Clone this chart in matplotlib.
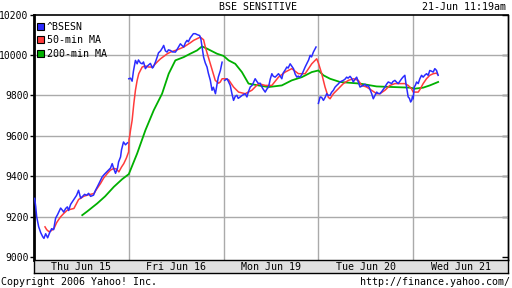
import numpy as np
import matplotlib
matplotlib.use("Agg")
import matplotlib.pyplot as plt
from matplotlib.patches import Patch

# time axis: trading days, 0 = Thu Jun 15 open, 1 = Fri open, ...
days = ['Thu Jun 15', 'Fri Jun 16', 'Mon Jun 19', 'Tue Jun 20', 'Wed Jun 21']

# ^BSESN, one list per session (gaps between days)
bse_t = [
    [0.007, 0.018, 0.028, 0.049, 0.071, 0.092, 0.105, 0.123, 0.144, 0.165, 0.186, 0.207, 0.228, 0.249,
     0.281, 0.302, 0.313, 0.334, 0.352, 0.365, 0.386, 0.407, 0.428, 0.449, 0.470, 0.492, 0.513, 0.534,
     0.555, 0.576, 0.597, 0.628, 0.649, 0.671, 0.692, 0.720, 0.744, 0.765, 0.786, 0.807, 0.825, 0.839,
     0.860, 0.881, 0.892, 0.913, 0.923, 0.944, 0.965, 0.986],
    [1.000, 1.018, 1.035, 1.049, 1.070, 1.088, 1.102, 1.123, 1.141, 1.155, 1.175, 1.196, 1.228, 1.249,
     1.259, 1.281, 1.299, 1.313, 1.335, 1.355, 1.368, 1.386, 1.404, 1.418, 1.439, 1.460, 1.492, 1.513,
     1.544, 1.565, 1.579, 1.597, 1.614, 1.628, 1.649, 1.667, 1.681, 1.702, 1.723, 1.747, 1.760, 1.773,
     1.789, 1.807, 1.825, 1.839, 1.860, 1.878, 1.892, 1.914, 1.932, 1.944, 1.966, 1.984],
    [2.011, 2.036, 2.049, 2.070, 2.088, 2.105, 2.123, 2.140, 2.154, 2.175, 2.196, 2.228, 2.246, 2.260,
     2.281, 2.302, 2.333, 2.349, 2.368, 2.386, 2.404, 2.418, 2.439, 2.455, 2.474, 2.492, 2.509, 2.523,
     2.544, 2.565, 2.579, 2.597, 2.614, 2.628, 2.649, 2.667, 2.681, 2.702, 2.718, 2.737, 2.755, 2.773,
     2.787, 2.807, 2.828, 2.860, 2.881, 2.897, 2.913, 2.928, 2.947, 2.965, 2.975],
    [3.000, 3.018, 3.034, 3.053, 3.071, 3.088, 3.102, 3.123, 3.139, 3.158, 3.175, 3.193, 3.207, 3.228,
     3.244, 3.263, 3.281, 3.298, 3.313, 3.334, 3.349, 3.368, 3.386, 3.404, 3.418, 3.439, 3.455, 3.474,
     3.492, 3.509, 3.526, 3.544, 3.562, 3.579, 3.597, 3.615, 3.628, 3.649, 3.670, 3.702, 3.719, 3.737,
     3.755, 3.773, 3.786, 3.807, 3.825, 3.842, 3.860, 3.878, 3.892, 3.912, 3.923, 3.930, 3.947, 3.960,
     3.973, 3.984, 3.992],
    [4.000, 4.011, 4.023, 4.036, 4.053, 4.070, 4.088, 4.105, 4.123, 4.141, 4.158, 4.175, 4.191, 4.211,
     4.228, 4.246, 4.263],
]
bse_v = [
    [9290, 9250, 9200, 9150, 9120, 9100, 9092, 9115, 9095, 9120, 9140, 9135, 9192, 9210,
     9242, 9230, 9222, 9240, 9248, 9230, 9260, 9275, 9290, 9305, 9330, 9291, 9300, 9310,
     9305, 9315, 9300, 9306, 9330, 9350, 9370, 9397, 9410, 9420, 9430, 9440, 9462, 9440,
     9414, 9440, 9470, 9495, 9530, 9569, 9555, 9565],
    [9882, 9885, 9870, 9920, 9973, 9956, 9975, 9960, 9956, 9965, 9932, 9945, 9958, 9935,
     9940, 9965, 9989, 10010, 10020, 10035, 10047, 10020, 10014, 10025, 10022, 10015, 10014, 10030,
     10055, 10045, 10039, 10060, 10072, 10065, 10085, 10096, 10105, 10105, 10100, 10096, 10080, 10039,
     9989, 9960, 9940, 9910, 9874, 9825, 9840, 9808, 9858, 9890, 9923, 9964],
    [9874, 9882, 9870, 9849, 9808, 9775, 9795, 9800, 9785, 9792, 9800, 9808, 9792, 9815,
     9841, 9850, 9882, 9870, 9858, 9860, 9841, 9830, 9816, 9830, 9841, 9880, 9907, 9895,
     9890, 9900, 9907, 9895, 9882, 9910, 9925, 9940, 9935, 9956, 9945, 9932, 9905, 9890,
     9895, 9890, 9905, 9940, 9960, 9975, 9998, 9990, 10014, 10030, 10039],
    [9760, 9792, 9790, 9775, 9790, 9808, 9800, 9800, 9815, 9825, 9840, 9849, 9855, 9866,
     9870, 9874, 9880, 9890, 9885, 9894, 9885, 9866, 9880, 9890, 9870, 9841, 9845, 9849,
     9855, 9845, 9849, 9830, 9808, 9783, 9800, 9816, 9810, 9808, 9820, 9841, 9855, 9866,
     9862, 9858, 9868, 9874, 9865, 9858, 9870, 9882, 9890, 9899, 9860, 9841, 9792, 9785,
     9767, 9775, 9795],
    [9783, 9841, 9850, 9866, 9858, 9882, 9899, 9890, 9900, 9907, 9899, 9923, 9920, 9915,
     9932, 9923, 9899],
]

# 50-min moving average
ma50_t = [0.116, 0.134, 0.158, 0.176, 0.211, 0.239, 0.260, 0.281, 0.313, 0.352, 0.386, 0.421, 0.449,
          0.471, 0.492, 0.523, 0.562, 0.597, 0.632, 0.660, 0.702, 0.734, 0.773, 0.807, 0.842, 0.871,
          0.895, 0.923, 0.947, 0.975, 0.998,
          1.002, 1.010, 1.018, 1.035, 1.053, 1.070, 1.088, 1.105, 1.141, 1.175, 1.210, 1.249, 1.299,
          1.335, 1.404, 1.439, 1.509, 1.579, 1.649, 1.684, 1.754, 1.789, 1.807, 1.860, 1.912, 1.947,
          1.965, 1.984,
          2.018, 2.053, 2.105, 2.158, 2.228, 2.298, 2.368, 2.439, 2.509, 2.579, 2.649, 2.719, 2.789,
          2.860, 2.930, 2.982,
          3.000, 3.035, 3.070, 3.105, 3.123, 3.158, 3.211, 3.263, 3.316, 3.368, 3.421, 3.456, 3.509,
          3.561, 3.614, 3.649, 3.702, 3.754, 3.807, 3.860, 3.912, 3.947, 3.982,
          4.000, 4.053, 4.070, 4.105, 4.140, 4.175, 4.211, 4.246, 4.257]
ma50_v = [9149, 9135, 9125, 9128, 9141, 9170, 9185, 9199, 9215, 9232, 9236, 9240, 9265,
          9285, 9290, 9300, 9306, 9310, 9314, 9335, 9364, 9390, 9413, 9430, 9438, 9435,
          9421, 9445, 9462, 9490, 9520,
          9580, 9600, 9627, 9676, 9759, 9825, 9874, 9907, 9940, 9945, 9940, 9940, 9965,
          9981, 10005, 10014, 10025, 10039, 10060, 10072, 10088, 10075, 10039, 9956, 9874, 9860,
          9866, 9882,
          9882, 9877, 9841, 9816, 9808, 9825, 9858, 9849, 9849, 9890, 9915, 9932, 9907,
          9907, 9956, 9981,
          9960, 9907, 9841, 9790, 9783, 9808, 9833, 9858, 9874, 9882, 9874, 9849, 9841,
          9825, 9808, 9808, 9825, 9849, 9858, 9858, 9858, 9849, 9833,
          9816, 9816, 9828, 9858, 9882, 9899, 9907, 9910, 9904]

# 200-min moving average
ma200_t = [0.509, 0.560, 0.667, 0.750, 0.842, 0.930, 1.000, 1.088, 1.175, 1.263, 1.351, 1.421,
           1.491, 1.579, 1.649, 1.719, 1.772, 1.825, 1.930, 2.000, 2.053, 2.123, 2.193, 2.263,
           2.368, 2.474, 2.614, 2.719, 2.825, 2.930, 3.000, 3.053, 3.123, 3.228, 3.439, 3.614,
           3.789, 3.965, 4.018, 4.105, 4.175, 4.263]
ma200_v = [9207, 9225, 9265, 9300, 9347, 9385, 9410, 9512, 9627, 9726, 9808, 9907,
           9973, 9989, 10006, 10022, 10042, 10031, 10006, 9995, 9973, 9956, 9915, 9858,
           9849, 9841, 9849, 9874, 9890, 9915, 9923, 9899, 9882, 9866, 9858, 9844,
           9841, 9838, 9833, 9838, 9849, 9866]

yticks = [9000, 9200, 9400, 9600, 9800, 10000, 10200]

c_bse = '#2b2bff'
c_50 = '#ff3b3b'
c_200 = '#00b000'
font = 'DejaVu Sans Mono'
fs = 7.0

fig = plt.figure(figsize=(5.12, 2.88), dpi=100)
ax = fig.add_axes([34 / 512, 1 - 260 / 288, 474 / 512, 245.5 / 288])

for t, v in zip(bse_t, bse_v):
    ax.plot(t, v, color=c_bse, lw=1.1, zorder=4)
ax.plot(ma200_t, ma200_v, color=c_200, lw=1.3, zorder=2)
ax.plot(ma50_t, ma50_v, color=c_50, lw=1.1, zorder=3)

ax.set_xlim(0, 5)
ax.set_ylim(8985, 10200)

for y in yticks[1:-1]:
    ax.axhline(y, color='#aaaaaa', lw=1, zorder=1)
for d in range(1, 5):
    ax.axvline(d, color='#aaaaaa', lw=1, zorder=1)

ax.set_xticks([])
ax.set_yticks(yticks)
ax.set_yticklabels([str(y) for y in yticks], fontfamily=font, fontsize=fs)
ax.tick_params(axis='y', direction='out', length=3, width=1, pad=1, right=False)
ax2 = ax.secondary_yaxis('right')
ax2.set_yticks(yticks)
ax2.set_yticklabels([])
ax2.tick_params(direction='in', length=4, width=1)
ax2.spines['right'].set_linewidth(1)

ax.spines['left'].set_linewidth(2)
ax.spines['top'].set_linewidth(1.2)
ax.spines['right'].set_linewidth(1)
ax.spines['bottom'].set_visible(False)

handles = [Patch(facecolor=c_bse, edgecolor='black', lw=0.8),
           Patch(facecolor=c_50, edgecolor='black', lw=0.8),
           Patch(facecolor=c_200, edgecolor='black', lw=0.8)]
ax.legend(handles, ['^BSESN', '50-min MA', '200-min MA'], loc='upper left',
          bbox_to_anchor=(0.0, 0.982), frameon=False,
          prop={'family': font, 'size': 7.2}, handlelength=0.7,
          handleheight=0.7, handletextpad=0.3, labelspacing=0.35,
          borderaxespad=0.1, borderpad=0.2)

# date band under the plot
band = fig.add_axes([34 / 512, 1 - 273 / 288, 474 / 512, 13 / 288])
band.set_facecolor('#e0e0e0')
band.set_xlim(0, 5)
band.set_ylim(0, 1)
band.set_xticks([])
band.set_yticks([])
for s in band.spines.values():
    s.set_linewidth(1)
for i, d in enumerate(days):
    band.text(i + 0.5, 0.45, d, ha='center', va='center', fontfamily=font, fontsize=7.2)

fig.text(258 / 512, 1 - 7 / 288, 'BSE SENSITIVE', ha='center', va='center',
         fontfamily=font, fontsize=7.2)
fig.text(506 / 512, 1 - 7 / 288, '21-Jun 11:19am', ha='right', va='center',
         fontfamily=font, fontsize=7.2)
fig.text(1 / 512, 1 - 282 / 288, 'Copyright 2006 Yahoo! Inc.', ha='left', va='center',
         fontfamily=font, fontsize=7.2)
fig.text(510 / 512, 1 - 282 / 288, 'http://finance.yahoo.com/', ha='right', va='center',
         fontfamily=font, fontsize=7.2)

fig.savefig('out.png', dpi=100)
